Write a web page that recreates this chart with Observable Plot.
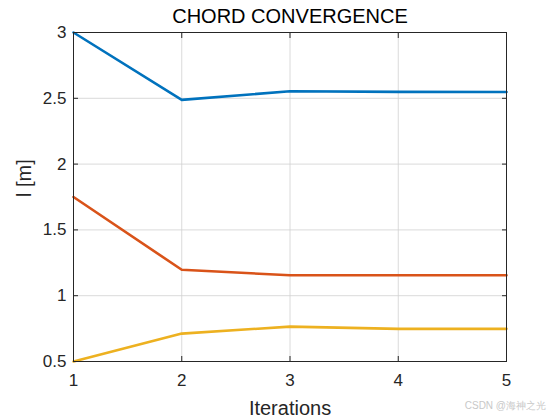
<!DOCTYPE html>
<html>
<head>
<meta charset="utf-8">
<script src="https://cdn.jsdelivr.net/npm/d3@7"></script>
<script src="https://cdn.jsdelivr.net/npm/@observablehq/plot@0.6"></script>
<style>
  html, body { margin: 0; padding: 0; background: #fff; }
  #chart { position: relative; width: 560px; height: 420px; }
  .wm { position: absolute; right: 14px; bottom: 7px; font: 10px "Liberation Sans", Arial, sans-serif; color: #c8c8c8; }
</style>
</head>
<body>
<div id="chart"></div>
<script>
const iterations = [1, 2, 3, 4, 5];
const seriesNames = ["chord1", "chord2", "chord3"];
const chord1 = [3.0, 2.488, 2.553, 2.549, 2.548];
const chord2 = [1.75, 1.197, 1.155, 1.155, 1.155];
const chord3 = [0.5, 0.712, 0.765, 0.748, 0.748];
const colors = ["#0072BD", "#D95319", "#EDB120"];
const yTicks = [0.5, 1, 1.5, 2, 2.5, 3];
const xTicks = [1, 2, 3, 4, 5];

const allSeries = [chord1, chord2, chord3];
const data = allSeries.flatMap((vals, s) =>
  vals.map((v, i) => ({iter: iterations[i], value: v, series: seriesNames[s]})));

const font = "'Liberation Sans', Arial, Helvetica, sans-serif";
const blank = () => "";

const chart = Plot.plot({
  width: 560,
  height: 420,
  marginLeft: 73,
  marginRight: 54,
  marginTop: 32,
  marginBottom: 59,
  style: {fontFamily: font, background: "#fff", overflow: "visible"},
  x: {domain: [1, 5]},
  y: {domain: [0.5, 3]},
  color: {domain: seriesNames, range: colors},
  marks: [
    Plot.gridX(xTicks, {stroke: "#d0d0d0", strokeOpacity: 1, strokeWidth: 0.8}),
    Plot.gridY(yTicks, {stroke: "#d0d0d0", strokeOpacity: 1, strokeWidth: 0.8}),
    Plot.lineY(data, {x: "iter", y: "value", stroke: "series", strokeWidth: 2.6, curve: "linear"}),
    Plot.frame({stroke: "#262626", strokeWidth: 1}),
    Plot.axisX(xTicks, {anchor: "bottom", tickSize: -5, tickPadding: 17, fontSize: 17, fill: "#262626", stroke: "#262626", label: null, tickFormat: d => String(d)}),
    Plot.axisX(xTicks, {anchor: "top", tickSize: -5, tickFormat: blank, stroke: "#262626", label: null}),
    Plot.axisY(yTicks, {anchor: "left", tickSize: -5, tickPadding: 12, fontSize: 17, fill: "#262626", stroke: "#262626", label: null, tickFormat: d => String(d)}),
    Plot.axisY(yTicks, {anchor: "right", tickSize: -5, tickFormat: blank, stroke: "#262626", label: null}),
    Plot.text(["CHORD CONVERGENCE"], {frameAnchor: "top", dy: -16, fontSize: 20, fill: "#000", lineAnchor: "middle"}),
    Plot.text(["l [m]"], {frameAnchor: "left", dx: -49, rotate: -90, fontSize: 20, fill: "#262626", lineAnchor: "middle"}),
    Plot.text(["Iterations"], {frameAnchor: "bottom", dy: 47, fontSize: 20, fill: "#262626", lineAnchor: "middle"})
  ]
});
document.getElementById("chart").appendChild(chart);
const wm = document.createElement("div");
wm.className = "wm";
wm.textContent = "CSDN @海神之光";
document.getElementById("chart").appendChild(wm);
</script>
</body>
</html>
